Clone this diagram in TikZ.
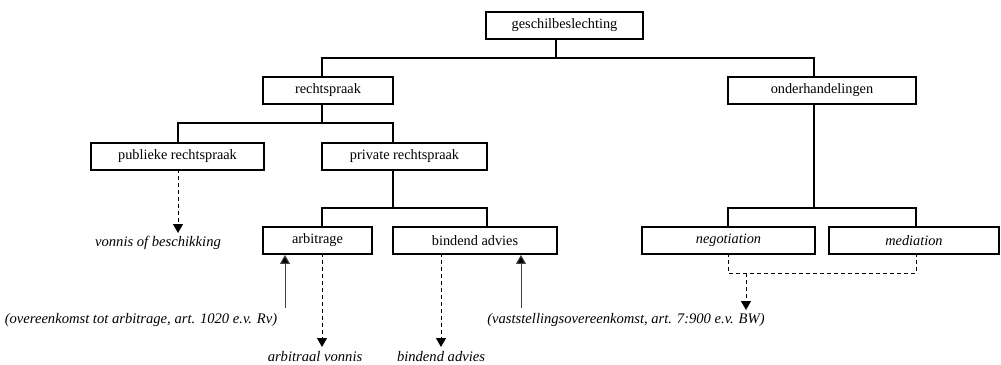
\documentclass[tikz,border=0pt]{standalone}
\usepackage{fontspec}
\setmainfont{Liberation Serif}
\usetikzlibrary{arrows.meta}
\tikzset{
  box/.style={draw, line width=1.9pt, minimum height=27pt, inner sep=0pt, font=\fontsize{14.3}{16}\selectfont},
  ibox/.style={box, font=\fontsize{14.3}{16}\selectfont\itshape},
  lbl/.style={inner sep=0pt, font=\fontsize{14.6}{16}\selectfont\itshape},
  conn/.style={line width=1.6pt},
  dconn/.style={line width=1pt, dash pattern=on 4pt off 3pt, -{Triangle[width=10pt,length=9pt]}},
  dline/.style={line width=1pt, dash pattern=on 4pt off 3pt},
  uarrow/.style={line width=1pt, draw=black!75, -{Triangle[width=10pt,length=9pt,fill=black]}},
}
\begin{document}
\begin{tikzpicture}[x=1pt,y=-1pt]
\useasboundingbox (0,0) rectangle (1001,364);
% boxes
\node[box, minimum width=157pt] (geschil) at (564.5,25.5) {geschilbeslechting};
\node[box, minimum width=130pt] (recht) at (328,90.5) {rechtspraak};
\node[box, minimum width=188pt] (onder) at (822,90.5) {onderhandelingen};
\node[box, minimum width=173pt] (publiek) at (177.5,156.5) {publieke rechtspraak};
\node[box, minimum width=165pt] (privaat) at (404.5,156.5) {private rechtspraak};
\node[box, minimum width=109pt] (arbi) at (317.5,240.5) {arbitrage};
\node[box, minimum width=164pt] (bindend) at (475,240.5) {bindend advies};
\node[ibox, minimum width=173pt] (nego) at (728.5,240.5) {negotiation};
\node[ibox, minimum width=170pt] (medi) at (914,240.5) {mediation};
% labels
\node[lbl] (vonnis) at (158,243) {vonnis of beschikking};
\node[lbl] (ovk) at (141,320) {(overeenkomst tot arbitrage, art. 1020 e.v. Rv)};
\node[lbl] (vsk) at (626,320) {(vaststellingsovereenkomst, art. 7:900 e.v. BW)};
\node[lbl] (avonnis) at (315,357) {arbitraal vonnis};
\node[lbl] (badv) at (441,357) {bindend advies};
% bus coordinates
\coordinate (b1) at (556,58);
\coordinate (b1L) at (322,58);
\coordinate (b1R) at (814,58);
\coordinate (b2) at (322,123);
\coordinate (b2L) at (178,123);
\coordinate (b2R) at (393,123);
\coordinate (b3) at (393,208);
\coordinate (b3L) at (322,208);
\coordinate (b3R) at (487,208);
\coordinate (b4) at (814,208);
\coordinate (b4L) at (728,208);
\coordinate (b4R) at (916,208);
% tree connectors
\draw[conn] (geschil.south -| b1) -- (b1);
\draw[conn] (recht.north -| b1L) -- (b1L) -- (b1R) -- (onder.north -| b1R);
\draw[conn] (recht.south -| b2) -- (b2);
\draw[conn] (publiek.north -| b2L) -- (b2L) -- (b2R) -- (privaat.north -| b2R);
\draw[conn] (privaat.south -| b3) -- (b3);
\draw[conn] (arbi.north -| b3L) -- (b3L) -- (b3R) -- (bindend.north -| b3R);
\draw[conn] (onder.south -| b4) -- (b4);
\draw[conn] (nego.north -| b4L) -- (b4L) -- (b4R) -- (medi.north -| b4R);
% dashed outcome arrows
\coordinate (d1) at (178,233);
\coordinate (d2) at (322,347);
\coordinate (d3) at (441,347);
\draw[dconn] ([yshift=2pt]publiek.south -| d1) -- (d1);
\draw[dconn] ([yshift=2pt]arbi.south -| d2) -- (d2);
\draw[dconn] ([yshift=2pt]bindend.south -| d3) -- (d3);
% negotiation / mediation dashed
\coordinate (e1) at (728,273);
\coordinate (e2) at (916,273);
\coordinate (e3) at (746,273);
\coordinate (e4) at (746,310);
\draw[dline] ([yshift=2pt]nego.south -| e1) -- (e1) -- (e2) -- ([yshift=2pt]medi.south -| e2);
\draw[dconn] (e3) -- (e4);
% solid up arrows
\coordinate (u1) at (285,308);
\coordinate (u2) at (521,308);
\draw[uarrow] (u1) -- (arbi.south -| u1);
\draw[uarrow] (u2) -- (bindend.south -| u2);
\end{tikzpicture}
\end{document}
